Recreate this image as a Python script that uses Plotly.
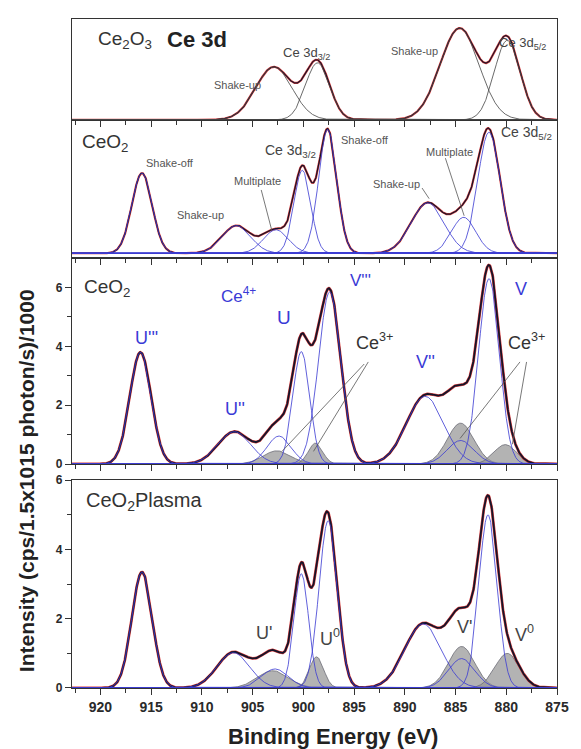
import numpy as np
import plotly.graph_objects as go

# ---------------- data ----------------
# peak parameters: binding energy (eV), height, FWHM (eV)
# Panel 1 : Ce2O3 reference (arbitrary units)
ce2o3_center = [902.9, 898.6, 884.6, 879.9]
ce2o3_height = [5.2, 5.6, 9.0, 7.8]
ce2o3_fwhm = [4.2, 2.8, 4.5, 3.0]

# Panel 2 : CeO2 reference fit (arbitrary units, on a flat background)
ceo2ref_center = [915.9, 906.6, 902.7, 900.1, 897.6, 887.75, 884.2, 881.7]
ceo2ref_height = [5.8, 2.0, 1.7, 6.0, 8.95, 3.65, 2.6, 8.75]
ceo2ref_fwhm = [2.35, 3.3, 2.9, 1.95, 2.1, 3.8, 2.8, 2.6]
ceo2ref_background = 0.35

# Panel 3 : CeO2   (intensity /1000)
ceo2_ce4_center = [916.05, 906.8, 902.4, 900.2, 897.4, 888.0, 884.5, 881.7]
ceo2_ce4_height = [3.8, 1.1, 0.95, 3.82, 5.85, 2.3, 0.8, 6.3]
ceo2_ce4_fwhm = [2.47, 3.77, 2.8, 1.95, 2.6, 4.3, 3.1, 2.4]
ceo2_ce3_center = [902.6, 898.8, 884.5, 880.1]
ceo2_ce3_height = [0.45, 0.71, 1.39, 0.66]
ceo2_ce3_fwhm = [3.2, 1.65, 3.1, 2.6]

# Panel 4 : CeO2 plasma (intensity /1000)
plasma_ce4_center = [915.9, 906.9, 902.8, 900.2, 897.55, 888.2, 884.4, 881.8]
plasma_ce4_height = [3.35, 1.02, 0.55, 3.3, 4.83, 1.85, 0.85, 5.0]
plasma_ce4_fwhm = [2.36, 3.77, 3.1, 1.7, 2.12, 4.24, 3.06, 2.12]
plasma_ce3_center = [903.0, 898.7, 884.4, 879.9]
plasma_ce3_height = [0.5, 0.9, 1.2, 1.0]
plasma_ce3_fwhm = [3.6, 1.65, 3.06, 2.83]

x_ticks = [920, 915, 910, 905, 900, 895, 890, 885, 880, 875]
y_ticks = [0, 2, 4, 6]

# ---------------- helpers ----------------
E = np.linspace(875.0, 922.8, 1400)


def gauss(c, h, w):
    s = w / 2.3548
    return h * np.exp(-0.5 * ((E - c) / s) ** 2)


FONT = "Liberation Sans, Arial, sans-serif"
BLUE = "#3a3ad6"
BLUE_LINE = "rgba(60,60,210,0.9)"
GRAY_FILL = "rgba(150,150,150,0.72)"
GRAY_LINE = "rgba(110,110,120,0.9)"
RED = "rgba(215,40,40,0.9)"

fig = go.Figure()


def add_panel(xa, ya, comps_line, comps_fill, line_color, base=0.0, data_w=1.8, env_w=2.8):
    total = np.full_like(E, base)
    for (c, h, w) in comps_line + comps_fill:
        total = total + gauss(c, h, w)
    for (c, h, w) in comps_fill:
        fig.add_trace(go.Scatter(x=E, y=gauss(c, h, w) + base, mode="lines", fill="tozeroy",
                                 fillcolor=GRAY_FILL, line=dict(color=GRAY_LINE, width=0.9),
                                 xaxis=xa, yaxis=ya, hoverinfo="skip"))
    fig.add_trace(go.Scatter(x=E, y=total, mode="lines", line=dict(color=RED, width=env_w),
                             xaxis=xa, yaxis=ya, hoverinfo="skip"))
    fig.add_trace(go.Scatter(x=E, y=total, mode="lines", line=dict(color="#15152a", width=data_w),
                             xaxis=xa, yaxis=ya, hoverinfo="skip"))
    for (c, h, w) in comps_line:
        fig.add_trace(go.Scatter(x=E, y=gauss(c, h, w) + base, mode="lines",
                                 line=dict(color=line_color, width=0.9),
                                 xaxis=xa, yaxis=ya, hoverinfo="skip"))


# panel 4 (bottom) : x / y
add_panel("x", "y",
          list(zip(plasma_ce4_center, plasma_ce4_height, plasma_ce4_fwhm)),
          list(zip(plasma_ce3_center, plasma_ce3_height, plasma_ce3_fwhm)), BLUE_LINE)
# panel 3 : x2 / y2
add_panel("x2", "y2",
          list(zip(ceo2_ce4_center, ceo2_ce4_height, ceo2_ce4_fwhm)),
          list(zip(ceo2_ce3_center, ceo2_ce3_height, ceo2_ce3_fwhm)), BLUE_LINE)
# panel 2 : x3 / y3
fig.add_trace(go.Scatter(x=E, y=np.full_like(E, ceo2ref_background), mode="lines",
                         line=dict(color=BLUE_LINE, width=1.2), xaxis="x3", yaxis="y3", hoverinfo="skip"))
add_panel("x3", "y3",
          list(zip(ceo2ref_center, ceo2ref_height, ceo2ref_fwhm)), [], BLUE_LINE,
          base=ceo2ref_background, data_w=1.2, env_w=2.2)
# panel 1 : x4 / y4
add_panel("x4", "y4",
          list(zip(ce2o3_center, ce2o3_height, ce2o3_fwhm)), [], "rgba(70,70,70,0.9)",
          data_w=1.1, env_w=2.2)

# ---------------- axes ----------------
AX = "#333333"
d4 = [0.0, 0.3105]
d3 = [0.3348, 0.6426]
d2 = [0.6426, 0.8492]
d1 = [0.8492, 1.0]


def xaxis(anchor, labels):
    return dict(domain=[0, 1], anchor=anchor, range=[922.8, 875], tickvals=x_ticks,
                ticks="outside", ticklen=6, tickwidth=1.2, tickcolor=AX,
                minor=dict(tickvals=[922.5, 917.5, 912.5, 907.5, 902.5, 897.5, 892.5, 887.5, 882.5, 877.5],
                           ticks="outside", ticklen=4, tickwidth=1.1, tickcolor=AX),
                showline=True, linecolor=AX, linewidth=1.3, mirror=True,
                showgrid=False, zeroline=False, showticklabels=labels,
                tickfont=dict(family=FONT, size=14, color="#2a2a2a", weight="bold"))


def yaxis(anchor, dom, rng, ticks):
    d = dict(domain=dom, anchor=anchor, range=rng, showline=True, linecolor=AX, linewidth=1.3,
             mirror=True, showgrid=False, zeroline=False)
    if ticks:
        d.update(tickvals=y_ticks, ticks="outside", ticklen=6, tickwidth=1.2, tickcolor=AX,
                 minor=dict(tickvals=[1, 3, 5], ticks="outside", ticklen=4, tickwidth=1.1, tickcolor=AX),
                 tickfont=dict(family=FONT, size=12, color="#2a2a2a", weight="bold"))
    else:
        d.update(showticklabels=False, ticks="")
    return d


fig.update_layout(
    width=581, height=749,
    margin=dict(l=72, r=14, t=15, b=61),
    paper_bgcolor="white", plot_bgcolor="white",
    showlegend=False,
    xaxis=xaxis("y", True), yaxis=yaxis("x", d4, [0, 6], True),
    xaxis2=xaxis("y2", False), yaxis2=yaxis("x2", d3, [0, 7], True),
    xaxis3=xaxis("y3", False), yaxis3=yaxis("x3", d2, [0, 10], False),
    xaxis4=xaxis("y4", False), yaxis4=yaxis("x4", d1, [0, 9.9], False),
)

ann = []


def txt(x, y, t, ref, size=12, color="#333333", bold=False, anchor="left"):
    ann.append(dict(x=x, y=y, xref="x" + ref if ref else "x", yref="y" + ref if ref else "y",
                    text=t, showarrow=False, xanchor=anchor, yanchor="middle",
                    font=dict(family=FONT, size=size, color=color, weight="bold" if bold else "normal")))


# panel 1
txt(920.4, 7.85, "Ce<sub>2</sub>O<sub>3</sub>", "4", 19)
txt(913.6, 7.85, "Ce 3d", "4", 22, "#222", True)
txt(906.5, 3.4, "Shake-up", "4", 11, "#555", anchor="center")
txt(902.2, 6.5, "Ce 3d<sub>3/2</sub>", "4", 13, "#444")
txt(889.0, 6.8, "Shake-up", "4", 11, "#555", anchor="center")
txt(880.9, 7.5, "Ce 3d<sub>5/2</sub>", "4", 13, "#444")

# panel 2
txt(922.0, 8.3, "CeO<sub>2</sub>", "3", 19)
txt(915.75, 6.87, "Shake-off", "3", 11, "#555")
txt(912.6, 3.13, "Shake-up", "3", 11, "#555")
txt(907.05, 5.58, "Multiplate", "3", 11, "#555")
txt(904.0, 7.73, "Ce 3d<sub>3/2</sub>", "3", 14, "#444")
txt(896.5, 8.53, "Shake-off", "3", 11, "#555")
txt(893.3, 5.36, "Shake-up", "3", 11, "#555")
txt(888.1, 7.66, "Multiplate", "3", 11, "#555")
txt(880.7, 9.03, "Ce 3d<sub>5/2</sub>", "3", 14, "#444")

# panel 3
txt(921.8, 6.0, "CeO<sub>2</sub>", "2", 19)
txt(908.3, 5.73, "Ce<sup>4+</sup>", "2", 17, BLUE)
txt(916.8, 4.3, "U'''", "2", 18, BLUE)
txt(907.9, 1.88, "U''", "2", 18, BLUE)
txt(902.8, 4.99, "U", "2", 19, BLUE)
txt(895.55, 6.24, "V'''", "2", 17, BLUE)
txt(895.0, 4.15, "Ce<sup>3+</sup>", "2", 18, "#333")
txt(889.1, 3.47, "V''", "2", 18, BLUE)
txt(879.3, 5.94, "V", "2", 18, BLUE)
txt(880.0, 4.15, "Ce<sup>3+</sup>", "2", 18, "#333")

# panel 4
txt(921.6, 5.4, "CeO<sub>2</sub>Plasma", "", 20)
txt(904.9, 1.58, "U'", "", 18, "#444")
txt(898.6, 1.47, "U<sup>0</sup>", "", 18, "#444")
txt(885.1, 1.75, "V'", "", 18, "#444")
txt(879.3, 1.58, "V<sup>0</sup>", "", 18, "#444")

# axis titles
ann.append(dict(x=-0.095, y=0.3105, xref="paper", yref="paper", text="Intensity (cps/1.5x1015 photon/s)/1000",
                showarrow=False, textangle=-90, xanchor="center", yanchor="middle",
                font=dict(family=FONT, size=21, color="#222", weight="bold")))
ann.append(dict(x=0.539, y=-0.072, xref="paper", yref="paper", text="Binding Energy (eV)",
                showarrow=False, xanchor="center", yanchor="middle",
                font=dict(family=FONT, size=22, color="#222", weight="bold")))

shapes = []


def seg(x0, y0, x1, y1, ref, color="#555", w=0.8):
    shapes.append(dict(type="line", x0=x0, y0=y0, x1=x1, y1=y1, xref="x" + ref, yref="y" + ref,
                       line=dict(color=color, width=w)))


seg(904.15, 4.93, 903.1, 1.98, "3")
seg(886.0, 7.23, 884.15, 3.06, "3")
seg(888.3, 5.07, 887.6, 4.3, "3")
seg(894.0, 3.4, 902.1, 0.43, "2")
seg(893.6, 3.47, 899.0, 0.43, "2")
seg(878.65, 3.47, 884.55, 0.87, "2")
seg(878.0, 3.47, 879.4, 0.67, "2")

fig.update_layout(annotations=ann, shapes=shapes)
fig.write_html("out.html")
